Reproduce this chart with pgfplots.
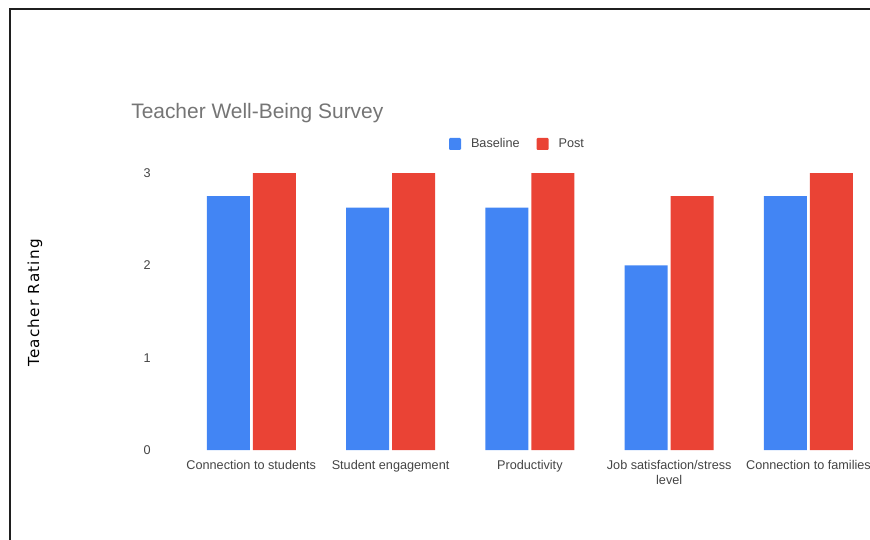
\documentclass[border=0pt]{standalone}
\usepackage{pgfplots}
\pgfplotsset{compat=1.18}
\usepackage{fontspec}
\setmainfont{Liberation Sans}
\newfontfamily\ylabfont[LetterSpace=8]{DejaVu Sans}
\definecolor{gblue}{HTML}{4285F4}
\definecolor{gred}{HTML}{EA4335}
\definecolor{ticktext}{HTML}{444444}
\definecolor{titlegray}{HTML}{757575}
\begin{document}
\begin{tikzpicture}[x=0.75pt,y=0.75pt]
\path[use as bounding box] (0,0) rectangle (870,539);
\begin{scope}
\clip (0,0) rectangle (870,539);
\draw[line width=1.9pt, color=black!88] (10,-5) -- (10,530) -- (880,530);
\begin{axis}[
  at={(136.2pt,66.75pt)}, anchor=south west,
  scale only axis, width=522.4pt, height=207.75pt,
  xmin=-0.5, xmax=4.5, ymin=0, ymax=3,
  enlargelimits=false,
  axis line style={draw=none},
  major tick length=0pt,
  ytick={0,1,2,3},
  xtick={0,1,2,3,4},
  xticklabels={Connection to students, Student engagement, Productivity, {Job satisfaction/stress\\level}, Connection to families},
  /pgf/number format/assume math mode=true,
  yticklabel style={anchor=east, inner sep=0pt, xshift=-22.95pt, font=\fontsize{9.5}{11}\selectfont, text=ticktext},
  xticklabel style={anchor=north, inner sep=0pt, yshift=-7.9pt, align=center, font=\fontsize{9.5}{11.25}\selectfont, text=ticktext},
  ybar, bar width=32.25pt,
  title={Teacher Well-Being Survey},
  title style={at={(axis description cs:-0.07265,1.1877)}, anchor=west, inner sep=0pt, font=\fontsize{15.7}{18}\selectfont, text=titlegray},
  ylabel={Teacher Rating},
  ylabel style={at={(axis description cs:-0.2105,0.5307)}, anchor=center, inner sep=0pt, font=\ylabfont\fontsize{11.4}{13}\selectfont, text=black},
  legend columns=2,
  legend style={at={(axis description cs:0.4808,1.1047)}, anchor=center, draw=none, fill=none, inner sep=0pt,
    font=\fontsize{9.5}{11}\selectfont, text=ticktext,
    nodes={inner sep=0pt},
    /tikz/every even column/.append style={column sep=12.75pt}},
  legend image code/.code={\fill[#1, rounded corners=0.8pt] (0pt,-4.5pt) rectangle (9pt,4.5pt); \path (16.5pt,0pt);},
]
\addplot[fill=gblue, draw=none, bar shift=-17.25pt] coordinates {(0,2.75) (1,2.625) (2,2.625) (3,2.0) (4,2.75)};
\addplot[fill=gred, draw=none, bar shift=17.25pt] coordinates {(0,3) (1,3) (2,3) (3,2.75) (4,3)};
\legend{Baseline, Post}
\end{axis}
\end{scope}
\end{tikzpicture}
\end{document}
